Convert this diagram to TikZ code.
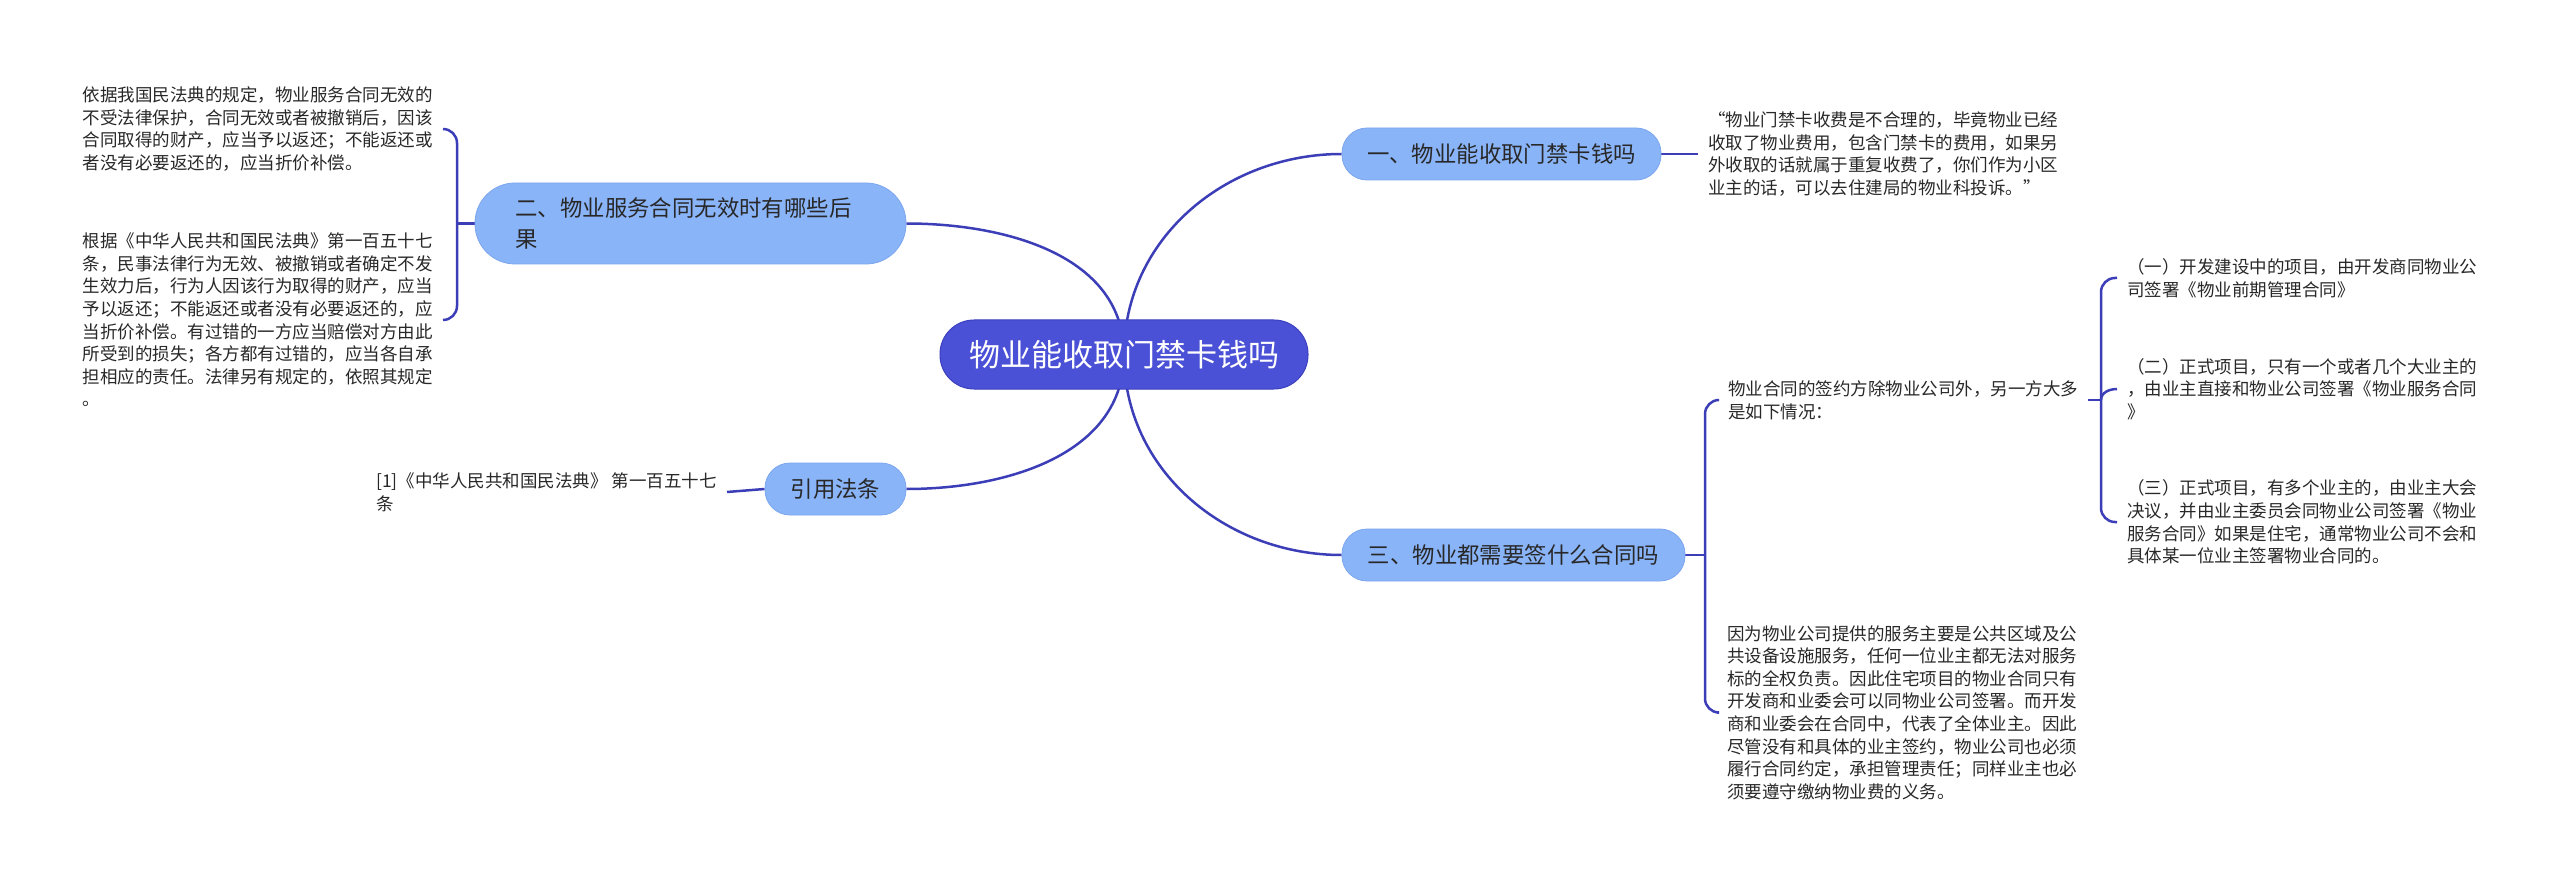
\documentclass[tikz,border=0pt]{standalone}
\usepackage{fontspec}
\setmainfont{Noto Sans CJK SC}
\usetikzlibrary{backgrounds,calc}
\definecolor{rootfill}{RGB}{75,81,214}
\definecolor{rootline}{RGB}{60,64,190}
\definecolor{subfill}{RGB}{138,180,248}
\definecolor{subline}{RGB}{124,166,238}
\definecolor{conncol}{RGB}{60,62,184}
\definecolor{txtcol}{RGB}{40,40,40}
\tikzset{
  rootbox/.style={rectangle, rounded corners=34pt, fill=rootfill, draw=rootline, line width=1pt,
    minimum width=368pt, minimum height=69pt, text=white, inner sep=0pt,
    font=\fontsize{31}{38}\selectfont},
  subbox/.style={rectangle, rounded corners=25pt, fill=subfill, draw=subline, line width=0.8pt,
    minimum height=52pt, text=txtcol, inner sep=0pt,
    font=\fontsize{22.4}{31}\selectfont},
  leaf/.style={align=left, inner xsep=10pt, inner ysep=0pt, text=txtcol,
    font=\fontsize{17.5}{22.6}\selectfont},
  conn/.style={draw=conncol, line width=2.5pt},
}
\begin{document}
\begin{tikzpicture}[x=1pt,y=1pt]
\useasboundingbox (0,0) rectangle (2560,-885);

% main nodes
\node[rootbox] (root) at (1124,-354.5) {物业能收取门禁卡钱吗};
\node[subbox, minimum width=319pt] (n1) at (1501.5,-154) {一、物业能收取门禁卡钱吗};
\node[subbox, minimum width=431pt, minimum height=81pt, rounded corners=40pt, text width=350pt, align=left] (n2) at (690.5,-223.5) {二、物业服务合同无效时有哪些后\\果};
\node[subbox, minimum width=343pt] (n3) at (1513.5,-555) {三、物业都需要签什么合同吗};
\node[subbox, minimum width=141pt] (cite) at (835.5,-489) {引用法条};

% leaf texts
\node[leaf, anchor=west] (t1) at (1698,-154) {“物业门禁卡收费是不合理的，毕竟物业已经\\收取了物业费用，包含门禁卡的费用，如果另\\外收取的话就属于重复收费了，你们作为小区\\业主的话，可以去住建局的物业科投诉。”};

\node[leaf, anchor=east] (p1) at (443,-129) {依据我国民法典的规定，物业服务合同无效的\\不受法律保护，合同无效或者被撤销后，因该\\合同取得的财产，应当予以返还；不能返还或\\者没有必要返还的，应当折价补偿。};
\node[leaf, anchor=east] (p2) at (443,-320) {根据《中华人民共和国民法典》第一百五十七\\条，民事法律行为无效、被撤销或者确定不发\\生效力后，行为人因该行为取得的财产，应当\\予以返还；不能返还或者没有必要返还的，应\\当折价补偿。有过错的一方应当赔偿对方由此\\所受到的损失；各方都有过错的，应当各自承\\担相应的责任。法律另有规定的，依照其规定\\。};

\node[leaf, anchor=east] (ct) at (727,-492) {[1]《中华人民共和国民法典》 第一百五十七\\条};

\node[leaf, anchor=west] (s1) at (1718,-400) {物业合同的签约方除物业公司外，另一方大多\\是如下情况：};
\node[leaf, anchor=west] (s2) at (1717,-712.5) {因为物业公司提供的服务主要是公共区域及公\\共设备设施服务，任何一位业主都无法对服务\\标的全权负责。因此住宅项目的物业合同只有\\开发商和业委会可以同物业公司签署。而开发\\商和业委会在合同中，代表了全体业主。因此\\尽管没有和具体的业主签约，物业公司也必须\\履行合同约定，承担管理责任；同样业主也必\\须要遵守缴纳物业费的义务。};

\node[leaf, anchor=west] (i1) at (2117,-278) {（一）开发建设中的项目，由开发商同物业公\\司签署《物业前期管理合同》};
\node[leaf, anchor=west] (i2) at (2117,-389) {（二）正式项目，只有一个或者几个大业主的\\，由业主直接和物业公司签署《物业服务合同\\》};
\node[leaf, anchor=west] (i3) at (2117,-522) {（三）正式项目，有多个业主的，由业主大会\\决议，并由业主委员会同物业公司签署《物业\\服务合同》如果是住宅，通常物业公司不会和\\具体某一位业主签署物业合同的。};

% bracket joints
\coordinate (b2) at (457,-223.5);
\coordinate (b3) at (1705,-555);
\coordinate (b4) at (2101,-400);

\begin{scope}[on background layer]
  \fill[white] (0,0) rectangle (2560,-885);
  % root connectors
  \draw[conn] (root.center) to[out=90,in=180] (n1.west);
  \draw[conn] (root.center) to[out=-90,in=180] (n3.west);
  \draw[conn] (root.center) to[out=90,in=0] (n2.east);
  \draw[conn] (root.center) to[out=-90,in=0] (cite.east);
  % level 2
  \draw[conn] (n1.east) -- (t1.west);
  \draw[conn] (cite.west) -- (ct.east);
  \draw[conn] (n2.west) -- (b2);
  \draw[conn, rounded corners=14pt] (p1.east) -- (b2 |- p1.east) -- (b2 |- p2.east) -- (p2.east);
  \draw[conn] (n3.east) -- (b3);
  \draw[conn, rounded corners=14pt] (s1.west) -- (b3 |- s1.west) -- (b3 |- s2.west) -- (s2.west);
  % level 3
  \draw[conn] (s1.east) -- (b4);
  \draw[conn, rounded corners=14pt] (i1.west) -- (b4 |- i1.west) -- (b4 |- i3.west) -- (i3.west);
  \draw[conn] (b4) to[out=90,in=180] (i2.west);
\end{scope}
\end{tikzpicture}
\end{document}
